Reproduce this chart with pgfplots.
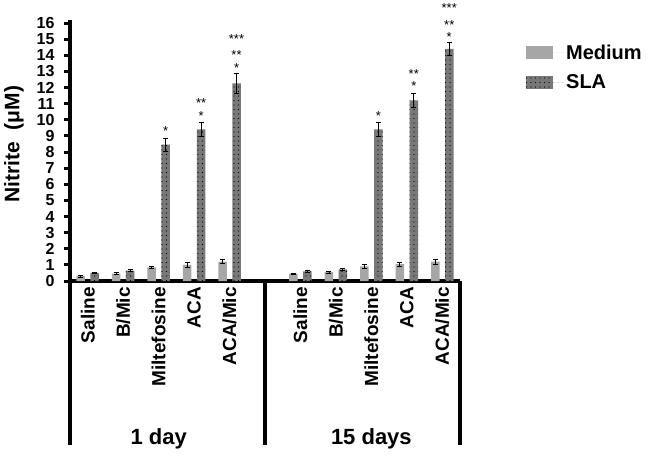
\documentclass[border=0pt]{standalone}
\usepackage{fontspec}
\setmainfont{Liberation Sans}
\usepackage{pgfplots}
\pgfplotsset{compat=1.18}
\usetikzlibrary{patterns.meta}

\definecolor{medgray}{RGB}{166,166,166}
\definecolor{slagray}{RGB}{120,120,120}

\pgfplotsset{
  errstyle/.style={error bars/.cd, y dir=both, y explicit,
    error bar style={line width=0.8pt, black},
    error mark options={rotate=90, mark size=2.5pt, line width=0.8pt, black}},
}

\begin{document}
\begin{tikzpicture}
\begin{axis}[
  at={(0,0)}, anchor=south west,
  scale only axis, width=390pt, height=258pt,
  xmin=-0.5, xmax=10.5, ymin=0, ymax=16,
  axis x line=bottom, axis y line=left,
  axis line style={line width=4pt, -},
  ytick={0,1,...,16},
  xtick={0,1,2,3,4,6,7,8,9,10},
  xticklabels={Saline,B/Mic,Miltefosine,ACA,ACA/Mic,Saline,B/Mic,Miltefosine,ACA,ACA/Mic},
  xtick style={draw=none},
  ytick style={line width=3pt, black},
  major tick length=6pt, tick align=outside,
  xticklabel style={rotate=90, anchor=east, inner sep=0pt,
    font=\fontsize{19}{19}\selectfont\bfseries},
  yticklabel style={font=\fontsize{16}{16}\selectfont\bfseries, xshift=-6pt},
  /pgf/number format/assume math mode=true,
  ylabel={Nitrite\ \ (μM)},
  ylabel style={font=\fontsize{21}{21}\selectfont\bfseries,
    at={(axis description cs:-0.144,0.53)}, anchor=center},
  legend style={at={(axis description cs:1.1615,0.932)}, anchor=north west,
    draw=none, fill=none, row sep=10pt,
    font=\fontsize{20}{20}\selectfont\bfseries},
  legend cell align=left,
  legend image code/.code={
    \fill[#1] (0pt,-6.5pt) rectangle (27pt,6.5pt);
    \path (0pt,0pt) -- (38pt,0pt);},
  clip=false,
]
% Medium (bars at category - 0.197)
\addplot[ybar, bar width=8.5pt, bar shift=0pt, fill=medgray, draw=none, errstyle]
  coordinates {
  (-0.197,0.30) +- (0,0.05)
  (0.803,0.45) +- (0,0.07)
  (1.803,0.85) +- (0,0.06)
  (2.803,1.00) +- (0,0.15)
  (3.803,1.20) +- (0,0.12)
  (5.803,0.45) +- (0,0.05)
  (6.803,0.55) +- (0,0.06)
  (7.803,0.90) +- (0,0.10)
  (8.803,1.05) +- (0,0.12)
  (9.803,1.20) +- (0,0.15)
  };
\addlegendentry{Medium}
% SLA (bars at category + 0.197)
\addplot[ybar, bar width=8.5pt, bar shift=0pt, fill=slagray, draw=none,
  postaction={pattern={Dots[distance=4.5pt, radius=0.55pt]}, pattern color=black},
  errstyle]
  coordinates {
  (0.197,0.50) +- (0,0.05)
  (1.197,0.65) +- (0,0.07)
  (2.197,8.45) +- (0,0.40)
  (3.197,9.40) +- (0,0.45)
  (4.197,12.25) +- (0,0.60)
  (6.197,0.60) +- (0,0.07)
  (7.197,0.72) +- (0,0.07)
  (8.197,9.40) +- (0,0.45)
  (9.197,11.20) +- (0,0.45)
  (10.197,14.40) +- (0,0.40)
  };
\addlegendentry{SLA}
% significance marks
\addplot[draw=none, mark=none, forget plot, nodes near coords,
  point meta=explicit symbolic, nodes near coords align={anchor=south},
  every node near coord/.append style={font=\fontsize{13}{12.5}\selectfont,
    inner sep=0pt, align=center}]
  coordinates {
  (2.197,9.02) [*]
  (3.197,9.95) [{**\\*}]
  (4.197,12.92) [{***\\[4pt]**\\*}]
  (8.197,9.95) [*]
  (9.197,11.80) [{**\\*}]
  (10.197,14.84) [{***\\[4pt]**\\*}]
  };
% group brackets
\draw[line width=4pt] (axis cs:-0.5,0) -- (axis cs:-0.5,-10.15);
\draw[line width=4pt] (axis cs:5,0) -- (axis cs:5,-10.15);
\draw[line width=4pt] (axis cs:10.5,0) -- (axis cs:10.5,-10.15);
\draw[line width=4pt] (axis cs:-0.5,16) -- (axis cs:-0.5,16.2);
\node[font=\fontsize{22}{22}\selectfont\bfseries] at (axis cs:2,-9.78) {1 day};
\node[font=\fontsize{22}{22}\selectfont\bfseries] at (axis cs:8,-9.78) {15 days};
\end{axis}
\pgfresetboundingbox
\useasboundingbox (-70pt,-175pt) rectangle (578pt,281pt);
\end{tikzpicture}
\end{document}
